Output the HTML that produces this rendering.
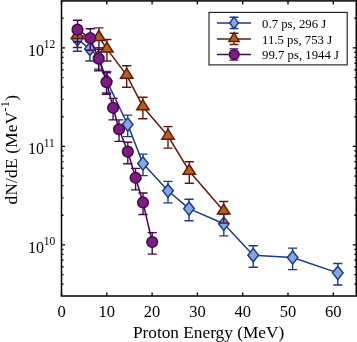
<!DOCTYPE html>
<html><head><meta charset="utf-8"><style>
html,body{margin:0;padding:0;background:#fff;}
svg{display:block;font-family:"Liberation Serif",serif;will-change:transform;}
</style></head><body>
<svg width="357" height="342" viewBox="0 0 357 342">
<rect x="61.5" y="0.9" width="294.8" height="295.1" fill="none" stroke="#000" stroke-width="1.5"/>
<path d="M61.5 296v-3.5M61.5 0.9v3.5M106.8 296v-3.5M106.8 0.9v3.5M152.1 296v-3.5M152.1 0.9v3.5M197.4 296v-3.5M197.4 0.9v3.5M242.7 296v-3.5M242.7 0.9v3.5M288 296v-3.5M288 0.9v3.5M333.3 296v-3.5M333.3 0.9v3.5M61.5 284.1h2.0M356.3 284.1h-2.0M61.5 274.55h2.0M356.3 274.55h-2.0M61.5 266.75h2.0M356.3 266.75h-2.0M61.5 260.16h2.0M356.3 260.16h-2.0M61.5 254.45h2.0M356.3 254.45h-2.0M61.5 249.41h2.0M356.3 249.41h-2.0M61.5 244.9h3.5M356.3 244.9h-3.5M61.5 215.25h2.0M356.3 215.25h-2.0M61.5 197.9h2.0M356.3 197.9h-2.0M61.5 185.6h2.0M356.3 185.6h-2.0M61.5 176.05h2.0M356.3 176.05h-2.0M61.5 168.25h2.0M356.3 168.25h-2.0M61.5 161.66h2.0M356.3 161.66h-2.0M61.5 155.95h2.0M356.3 155.95h-2.0M61.5 150.91h2.0M356.3 150.91h-2.0M61.5 146.4h3.5M356.3 146.4h-3.5M61.5 116.75h2.0M356.3 116.75h-2.0M61.5 99.4h2.0M356.3 99.4h-2.0M61.5 87.1h2.0M356.3 87.1h-2.0M61.5 77.55h2.0M356.3 77.55h-2.0M61.5 69.75h2.0M356.3 69.75h-2.0M61.5 63.16h2.0M356.3 63.16h-2.0M61.5 57.45h2.0M356.3 57.45h-2.0M61.5 52.41h2.0M356.3 52.41h-2.0M61.5 47.9h3.5M356.3 47.9h-3.5M61.5 18.25h2.0M356.3 18.25h-2.0" stroke="#000" stroke-width="1.3" fill="none"/>
<path d="M77.4 29.69V51.19M72.8 29.69H82M72.8 51.19H82M89.9 39.49V60.99M85.3 39.49H94.5M85.3 60.99H94.5M98.6 47.59V69.09M94 47.59H103.2M94 69.09H103.2M106.7 71.49V92.99M102.1 71.49H111.3M102.1 92.99H111.3M127.7 115.09V136.59M123.1 115.09H132.3M123.1 136.59H132.3M143 154.09V175.59M138.4 154.09H147.6M138.4 175.59H147.6M168 181.39V202.89M163.4 181.39H172.6M163.4 202.89H172.6M189 199.19V220.69M184.4 199.19H193.6M184.4 220.69H193.6M223.8 214.39V235.89M219.2 214.39H228.4M219.2 235.89H228.4M253.2 245.74V267.24M248.6 245.74H257.8M248.6 267.24H257.8M292.6 248.14V269.64M288 248.14H297.2M288 269.64H297.2M337.8 263.44V284.94M333.2 263.44H342.4M333.2 284.94H342.4" stroke="#1b3a86" stroke-width="1.4" fill="none"/><path d="M77.4 39.1 L89.9 48.9 L98.6 57 L106.7 80.9 L127.7 124.5 L143 163.5 L168 190.8 L189 208.6 L223.8 223.8 L253.2 255.15 L292.6 257.55 L337.8 272.85" stroke="#1b3a86" stroke-width="1.5" fill="none" stroke-linejoin="round"/><path d="M77.4 32.5L82.7 39.1L77.4 45.7L72.1 39.1ZM89.9 42.3L95.2 48.9L89.9 55.5L84.6 48.9ZM98.6 50.4L103.9 57L98.6 63.6L93.3 57ZM106.7 74.3L112 80.9L106.7 87.5L101.4 80.9ZM127.7 117.9L133 124.5L127.7 131.1L122.4 124.5ZM143 156.9L148.3 163.5L143 170.1L137.7 163.5ZM168 184.2L173.3 190.8L168 197.4L162.7 190.8ZM189 202L194.3 208.6L189 215.2L183.7 208.6ZM223.8 217.2L229.1 223.8L223.8 230.4L218.5 223.8ZM253.2 248.55L258.5 255.15L253.2 261.75L247.9 255.15ZM292.6 250.95L297.9 257.55L292.6 264.15L287.3 257.55ZM337.8 266.25L343.1 272.85L337.8 279.45L332.5 272.85Z" fill="#84a7e1" stroke="#1b3a86" stroke-width="1.5" stroke-linejoin="miter"/>
<path d="M77.4 25.99V47.49M72.8 25.99H82M72.8 47.49H82M98.9 27.89V49.39M94.3 27.89H103.5M94.3 49.39H103.5M106.9 39.49V60.99M102.3 39.49H111.5M102.3 60.99H111.5M126.7 65.74V87.24M122.1 65.74H131.3M122.1 87.24H131.3M142.9 97.24V118.74M138.3 97.24H147.5M138.3 118.74H147.5M168 126.59V148.09M163.4 126.59H172.6M163.4 148.09H172.6M189.3 161.74V183.24M184.7 161.74H193.9M184.7 183.24H193.9M223.7 201.49V222.99M219.1 201.49H228.3M219.1 222.99H228.3" stroke="#65180a" stroke-width="1.4" fill="none"/><path d="M77.4 35.4 L98.9 37.3 L106.9 48.9 L126.7 75.15 L142.9 106.65 L168 136 L189.3 171.15 L223.7 210.9" stroke="#65180a" stroke-width="1.5" fill="none" stroke-linejoin="round"/><path d="M77.4 28.6L83.6 38.6L71.2 38.6ZM98.9 30.5L105.1 40.5L92.7 40.5ZM106.9 42.1L113.1 52.1L100.7 52.1ZM126.7 68.35L132.9 78.35L120.5 78.35ZM142.9 99.85L149.1 109.85L136.7 109.85ZM168 129.2L174.2 139.2L161.8 139.2ZM189.3 164.35L195.5 174.35L183.1 174.35ZM223.7 204.1L229.9 214.1L217.5 214.1Z" fill="#b3611f" stroke="#65180a" stroke-width="1.5" stroke-linejoin="miter"/>
<path d="M77.5 20.29V41.79M72.9 20.29H82.1M72.9 41.79H82.1M90.3 28.79V50.29M85.7 28.79H94.9M85.7 50.29H94.9M98.7 49.29V70.79M94.1 49.29H103.3M94.1 70.79H103.3M106.5 72.69V94.19M101.9 72.69H111.1M101.9 94.19H111.1M113.1 98.39V119.89M108.5 98.39H117.7M108.5 119.89H117.7M119 119.84V141.34M114.4 119.84H123.6M114.4 141.34H123.6M127.8 142.19V163.69M123.2 142.19H132.4M123.2 163.69H132.4M135.6 168.39V189.89M131 168.39H140.2M131 189.89H140.2M143 193.04V214.54M138.4 193.04H147.6M138.4 214.54H147.6M152.2 232.59V254.09M147.6 232.59H156.8M147.6 254.09H156.8" stroke="#440850" stroke-width="1.4" fill="none"/><path d="M77.5 29.7 L90.3 38.2 L98.7 58.7 L106.5 82.1 L113.1 107.8 L119 129.25 L127.8 151.6 L135.6 177.8 L143 202.45 L152.2 242" stroke="#440850" stroke-width="1.5" fill="none" stroke-linejoin="round"/><circle cx="77.5" cy="29.7" r="5.35" fill="#7c1e80" stroke="#440850" stroke-width="1.5"/><circle cx="90.3" cy="38.2" r="5.35" fill="#7c1e80" stroke="#440850" stroke-width="1.5"/><circle cx="98.7" cy="58.7" r="5.35" fill="#7c1e80" stroke="#440850" stroke-width="1.5"/><circle cx="106.5" cy="82.1" r="5.35" fill="#7c1e80" stroke="#440850" stroke-width="1.5"/><circle cx="113.1" cy="107.8" r="5.35" fill="#7c1e80" stroke="#440850" stroke-width="1.5"/><circle cx="119" cy="129.25" r="5.35" fill="#7c1e80" stroke="#440850" stroke-width="1.5"/><circle cx="127.8" cy="151.6" r="5.35" fill="#7c1e80" stroke="#440850" stroke-width="1.5"/><circle cx="135.6" cy="177.8" r="5.35" fill="#7c1e80" stroke="#440850" stroke-width="1.5"/><circle cx="143" cy="202.45" r="5.35" fill="#7c1e80" stroke="#440850" stroke-width="1.5"/><circle cx="152.2" cy="242" r="5.35" fill="#7c1e80" stroke="#440850" stroke-width="1.5"/>
<rect x="209" y="12.4" width="138.2" height="52.5" fill="#fff" stroke="#222" stroke-width="1.15"/>
<path d="M216.9 22.9H251" stroke="#1b3a86" stroke-width="1.5"/>
<path d="M234 17.299999999999997V28.5M229.6 17.299999999999997H238.4M229.6 28.5H238.4" stroke="#1b3a86" stroke-width="1.4" fill="none"/>
<path d="M234 17.1L238.3 22.9L234 28.7L229.7 22.9Z" fill="#84a7e1" stroke="#1b3a86" stroke-width="1.5"/>
<text x="262.1" y="27.7" font-size="12.75">0.7 ps, 296 J</text>
<path d="M216.9 38.9H251" stroke="#65180a" stroke-width="1.5"/>
<path d="M234 33.3V44.5M229.6 33.3H238.4M229.6 44.5H238.4" stroke="#65180a" stroke-width="1.4" fill="none"/>
<path d="M234 32.7L239.1 41.5L228.9 41.5Z" fill="#b3611f" stroke="#65180a" stroke-width="1.5"/>
<text x="262.1" y="43.699999999999996" font-size="12.75">11.5 ps, 753 J</text>
<path d="M216.9 54.5H251" stroke="#440850" stroke-width="1.5"/>
<path d="M234 48.9V60.1M229.6 48.9H238.4M229.6 60.1H238.4" stroke="#440850" stroke-width="1.4" fill="none"/>
<circle cx="234.2" cy="54.5" r="4.8" fill="#7c1e80" stroke="#440850" stroke-width="1.5"/>
<text x="262.1" y="59.3" font-size="12.75">99.7 ps, 1944 J</text>
<text x="61.5" y="317.2" font-size="16.5" text-anchor="middle">0</text>
<text x="106.8" y="317.2" font-size="16.5" text-anchor="middle">10</text>
<text x="152.1" y="317.2" font-size="16.5" text-anchor="middle">20</text>
<text x="197.4" y="317.2" font-size="16.5" text-anchor="middle">30</text>
<text x="242.7" y="317.2" font-size="16.5" text-anchor="middle">40</text>
<text x="288" y="317.2" font-size="16.5" text-anchor="middle">50</text>
<text x="333.3" y="317.2" font-size="16.5" text-anchor="middle">60</text>
<text x="44.1" y="55.9" font-size="16" text-anchor="end">10</text>
<text x="43.7" y="48.1" font-size="11.5">12</text>
<text x="44.1" y="154.4" font-size="16" text-anchor="end">10</text>
<text x="43.7" y="146.6" font-size="11.5">11</text>
<text x="44.1" y="252.9" font-size="16" text-anchor="end">10</text>
<text x="43.7" y="245.1" font-size="11.5">10</text>
<text x="208.6" y="338.2" font-size="17.3" text-anchor="middle">Proton Energy (MeV)</text>
<text transform="translate(16.8 204.4) rotate(-90)" font-size="17.3" textLength="109.3" lengthAdjust="spacing">dN/dE (MeV<tspan font-size="12.5" dy="-7.6">-1</tspan><tspan dy="7.6">)</tspan></text>
</svg></body></html>
